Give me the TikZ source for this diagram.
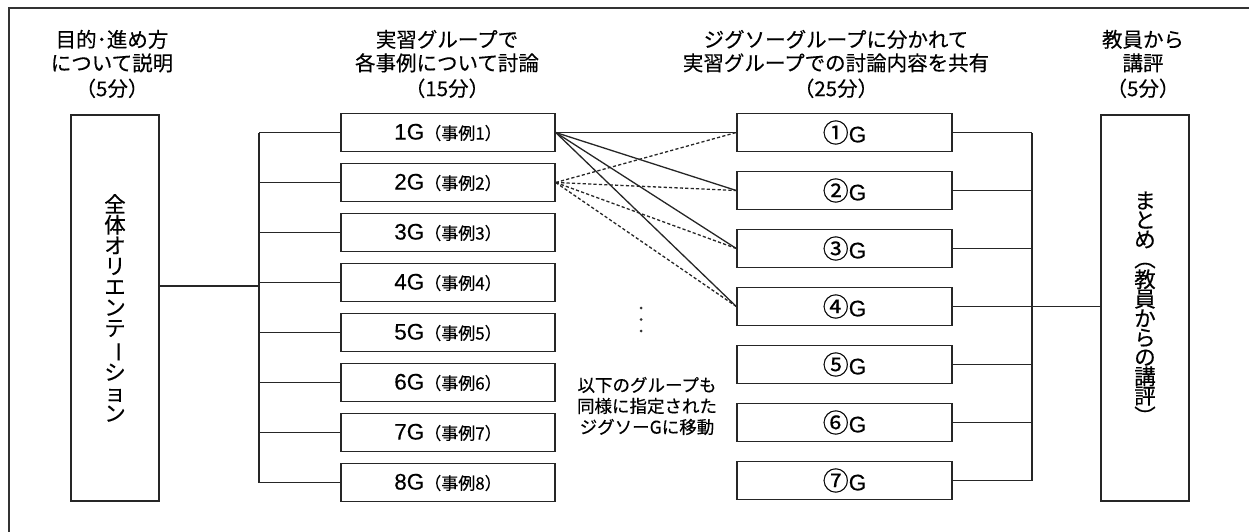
\documentclass[tikz,border=0pt]{standalone}
\usepackage{fontspec}
\setmainfont{Liberation Sans}[FakeBold=0.3]
\newfontfamily\jp{Noto Sans CJK JP}[FakeBold=0.35]
\newcommand{\vbar}{\rotatebox[origin=c]{-90}{ー}}
\begin{document}
\begin{tikzpicture}[x=1pt,y=-1pt,
  box/.style={draw=black!85,line width=1.4pt,inner sep=0pt,fill=white},
  gbox/.style={box,minimum width=214pt,minimum height=37.5pt},
  jbox/.style={box,minimum width=215pt,minimum height=37.5pt},
  tallbox/.style={box,minimum width=88pt,minimum height=386pt},
  link/.style={draw=black!85,line width=1.3pt},
  dlink/.style={draw=black!85,line width=1.3pt,dash pattern=on 3.2pt off 2.2pt},
  head/.style={align=center,font=\jp\fontsize{20.5}{23.5}\selectfont},
  vtext/.style={align=center,font=\jp\fontsize{21.5}{20.6}\selectfont},
  note/.style={align=center,font=\jp\fontsize{17.5}{21}\selectfont}]
\useasboundingbox (0,0) rectangle (1249,532);
% outer frame (only top and left edges fall inside the picture)
\coordinate (fbl) at (9,532);
\coordinate (ftl) at (9,8);
\coordinate (ftr) at (1249,8);
\draw[draw=black!80,line width=1.2pt] (fbl) -- (ftl) -- (ftr);

% headers
\node[head] (h1) at (112,64) {目的･進め方\\について説明\\[2pt]（5分）};
\node[head] (h2) at (447,64) {実習グループで\\各事例について討論\\[2pt]（15分）};
\node[head] (h3) at (836,64) {ジグソーグループに分かれて\\実習グループでの討論内容を共有\\[2pt]（25分）};
\node[head] (h4) at (1143,64) {教員から\\講評\\[2pt]（5分）};

% left and right tall boxes
\node[tallbox] (orient) at (115,308) {};
\node[vtext] at (orient.center) {全\\体\\オ\\リ\\エ\\ン\\テ\\\vbar\\シ\\ョ\\ン};
\node[tallbox] (summary) at (1145,308) {};
\node[vtext,font=\jp\fontsize{21.5}{19.4}\selectfont] at (summary.center) {ま\\と\\め\\︵\\教\\員\\か\\ら\\の\\講\\評\\︶};

% practice groups
\foreach \i in {1,...,8}{
  \node[gbox] (g\i) at (448,{132.5+50*(\i-1)})
    {{\fontsize{22.5}{20}\selectfont \i G}{\jp\fontsize{17}{16}\selectfont （事例\i）}};
}
% jigsaw groups
\foreach \k/\c in {1/①,2/②,3/③,4/④,5/⑤,6/⑥,7/⑦}{
  \node[jbox] (j\k) at (844.5,{132.5+58*(\k-1)})
    {{\jp\fontsize{26}{20}\selectfont \c}{\fontsize{22.5}{20}\selectfont G}};
}

% left tree
\coordinate (bx) at (259,0);
\coordinate (bl) at (259,286);
\draw[link] (orient.east |- bl) -- (bl);
\draw[link] (g1.west -| bx) -- (g8.west -| bx);
\foreach \i in {1,...,8}{\draw[link] (g\i.west -| bx) -- (g\i.west);}

% right tree
\coordinate (rx) at (1032,0);
\draw[link] (j1.east -| rx) -- (j7.east -| rx);
\foreach \k in {1,2,3,5,6,7}{\draw[link] (j\k.east) -- (j\k.east -| rx);}
\draw[link] (j4.east) -- (j4.east -| summary.west);

% crossing lines
\foreach \k in {1,...,4}{\draw[dlink] (g2.east) -- (j\k.west);}
\foreach \k in {1,...,4}{\draw[link] (g1.east) -- (j\k.west);}

% vertical ellipsis
\foreach \yy in {308,319.5,331}{\fill[black!80] (641,\yy) circle (1.5pt);}

\node[note] (nt) at (647,406) {以下のグループも\\同様に指定された\\ジグソーGに移動};
\end{tikzpicture}
\end{document}
